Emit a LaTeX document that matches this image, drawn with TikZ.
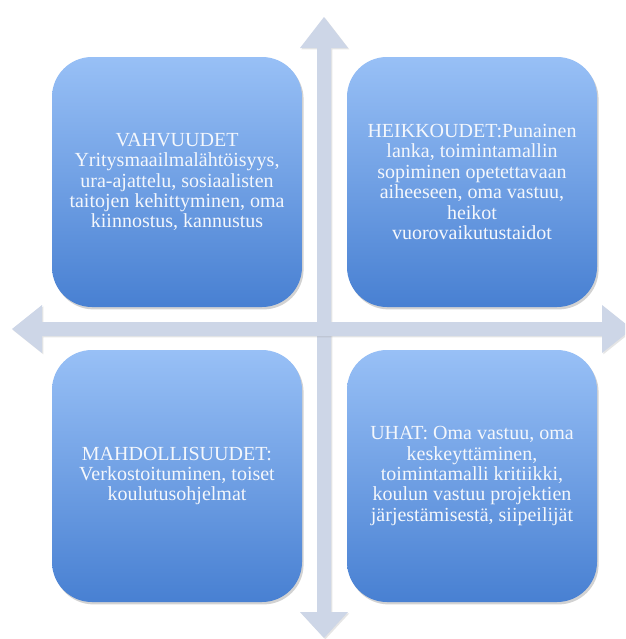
\documentclass[tikz,border=0pt]{standalone}
\usepackage{fontspec}
\setmainfont{Liberation Serif}
\usetikzlibrary{shadows}

\definecolor{boxtop}{RGB}{152,192,246}
\definecolor{boxbottom}{RGB}{72,128,210}
\definecolor{axisgray}{RGB}{205,214,231}
\definecolor{boxtext}{RGB}{244,247,252}

\tikzset{every picture/.style={line width=0.75pt}}
\tikzset{
  swotbox/.style={rounded corners=30pt, minimum width=187.5pt, minimum height=187.5pt,
    top color=boxtop, bottom color=boxbottom, draw=none, text=boxtext, align=center,
    inner sep=2pt, font=\fontsize{15}{15.3}\selectfont,
    drop shadow={opacity=0.35, shadow xshift=1.2pt, shadow yshift=-1.8pt}},
  axisarrow/.style={fill=axisgray, draw=none,
    drop shadow={opacity=0.2, shadow xshift=1pt, shadow yshift=-1pt}}
}

\begin{document}
\begin{tikzpicture}[x=0.75pt,y=0.75pt,yscale=-1,xscale=1]
\clip (0,0) rectangle (625,639);
\fill[white] (0,0) rectangle (625,639);

%Shape: Up Down Arrow
\path[axisarrow] (317,48) -- (300,48) -- (324,17) -- (348,48) -- (331,48) -- (331,612) -- (348,612) -- (324,638) -- (300,612) -- (317,612) -- cycle ;
%Shape: Left Right Arrow
\path[axisarrow] (42,322) -- (42,305) -- (12,329) -- (42,353) -- (42,336) -- (602,336) -- (602,353) -- (632,329) -- (602,305) -- (602,322) -- cycle ;

% Text Node
\node[swotbox] (vahvuudet) at (177,182) {VAHVUUDET\\Yritysmaailmalähtöisyys,\\ura-ajattelu, sosiaalisten\\taitojen kehittyminen, oma\\kiinnostus, kannustus};
% Text Node
\node[swotbox] (heikkoudet) at (472,182) {HEIKKOUDET:Punainen\\lanka, toimintamallin\\sopiminen opetettavaan\\aiheeseen, oma vastuu,\\heikot\\vuorovaikutustaidot};
% Text Node
\node[swotbox, minimum height=189pt] (mahdollisuudet) at (177,476) {MAHDOLLISUUDET:\\Verkostoituminen, toiset\\koulutusohjelmat};
% Text Node
\node[swotbox, minimum height=189pt] (uhat) at (472,476) {UHAT: Oma vastuu, oma\\keskeyttäminen,\\toimintamalli kritiikki,\\koulun vastuu projektien\\järjestämisestä, siipeilijät};

\end{tikzpicture}
\end{document}
